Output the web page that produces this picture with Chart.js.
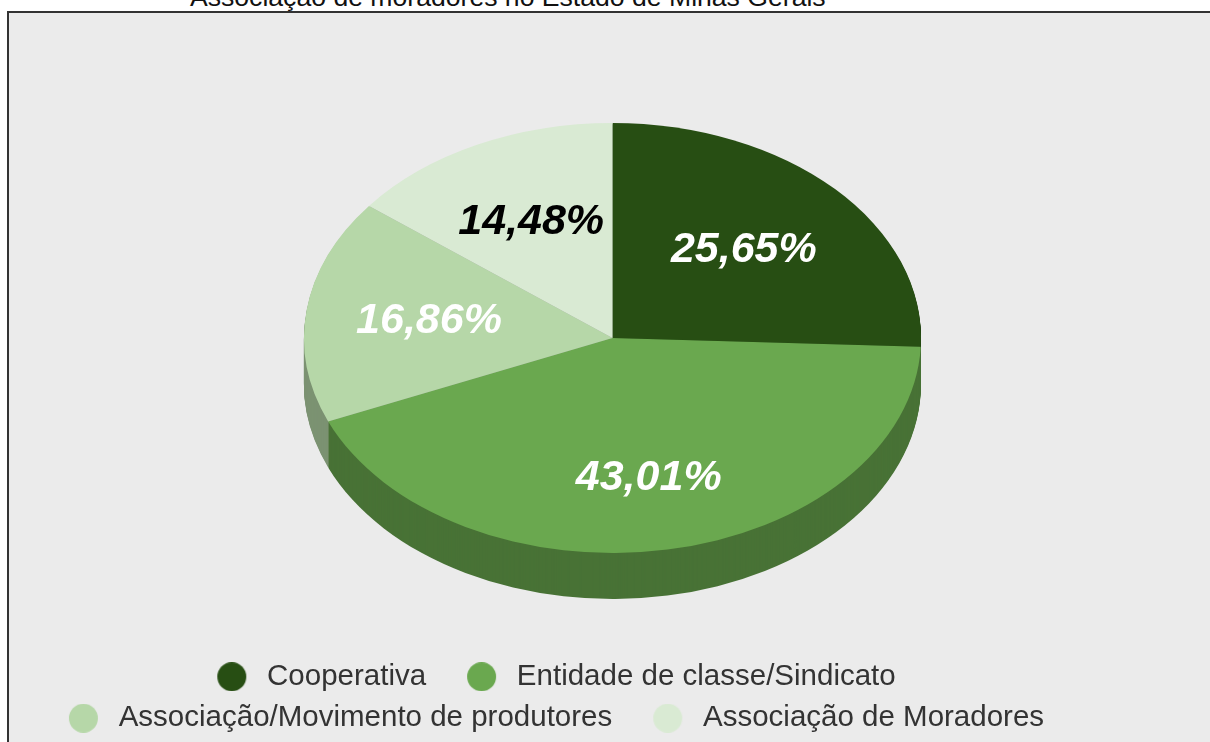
<!DOCTYPE html>
<html>
<head>
<meta charset="utf-8">
<script src="https://cdn.jsdelivr.net/npm/chart.js@4.4.1/dist/chart.umd.min.js"></script>
<style>
  html, body { margin: 0; padding: 0; background: #ffffff; overflow: hidden; width: 1210px; height: 742px; }
  #title { position: absolute; left: 190px; top: -16px; font: 26.6px "Liberation Sans", Arial, sans-serif; line-height: 26px; color: #111; white-space: nowrap; }
  #frame { position: absolute; left: 7px; top: 11px; width: 1220px; height: 760px; border: 2px solid #333; background: #ebebeb; }
  #chart { position: absolute; left: -8px; top: 13px; }
</style>
</head>
<body>
<div id="title">Associação de moradores no Estado de Minas Gerais</div>
<div id="frame"></div>
<canvas id="chart" width="1100" height="730"></canvas>
<script>
// ---- data ----
const categories = ['Cooperativa', 'Entidade de classe/Sindicato', 'Associação/Movimento de produtores', 'Associação de Moradores'];
const shares = [25.65, 43.01, 16.86, 14.48];
const sliceColors = ['#274e13', '#6aa84f', '#b6d7a8', '#d9ead3'];
const labelColors = ['#ffffff', '#ffffff', '#ffffff', '#000000'];
const labelRadiusFactors = [0.59, 0.66, 0.6, 0.6];

// ---- 3D look (canvas coordinates) ----
const CENTER_X = 620.5;
const CENTER_Y = 325;
const RADIUS = 308.5;
const TILT = 0.697;
const DEPTH = 46;

// legend marker: leading gap + circle + small trailing gap
const MARK_W = 64, MARK_H = 29, MARK_LEAD = 29;
function legendMarker(color) {
  const c = document.createElement('canvas');
  c.width = MARK_W; c.height = MARK_H;
  const g = c.getContext('2d');
  g.fillStyle = color;
  g.beginPath();
  g.arc(MARK_LEAD + MARK_H / 2, MARK_H / 2, MARK_H / 2, 0, Math.PI * 2);
  g.fill();
  return c;
}

function fmt(v) { return v.toFixed(2).replace('.', ',') + '%'; }

const pie3d = {
  id: 'pie3d',
  beforeDatasetsDraw(chart) {
    const ctx = chart.ctx;
    const arcs = chart.getDatasetMeta(0).data;
    if (!arcs.length) return;
    const a0 = arcs[0];
    const s = RADIUS / a0.outerRadius;
    const apply = (dy) => {
      ctx.translate(CENTER_X, CENTER_Y + dy);
      ctx.scale(s, s * TILT);
      ctx.translate(-a0.x, -a0.y);
    };
    for (let d = DEPTH; d >= 1; d--) {
      ctx.save();
      ctx.filter = 'brightness(0.68)';
      apply(d);
      arcs.forEach(arc => arc.draw(ctx));
      ctx.restore();
    }
    ctx.save();
    apply(0);
  },
  afterDatasetsDraw(chart) {
    const ctx = chart.ctx;
    ctx.restore();
    const arcs = chart.getDatasetMeta(0).data;
    ctx.save();
    ctx.font = 'italic bold 43px "Liberation Sans", Arial, sans-serif';
    ctx.textAlign = 'center';
    ctx.textBaseline = 'middle';
    arcs.forEach((arc, i) => {
      const mid = (arc.startAngle + arc.endAngle) / 2;
      const f = labelRadiusFactors[i];
      const x = CENTER_X + Math.cos(mid) * RADIUS * f;
      const y = CENTER_Y + Math.sin(mid) * RADIUS * f * TILT;
      ctx.fillStyle = labelColors[i];
      ctx.fillText(fmt(shares[i]), x, y);
    });
    ctx.restore();
  }
};

new Chart(document.getElementById('chart'), {
  type: 'pie',
  data: {
    labels: categories,
    datasets: [{
      data: shares,
      backgroundColor: sliceColors,
      borderWidth: 0,
      hoverOffset: 0,
      radius: RADIUS
    }]
  },
  options: {
    responsive: false,
    animation: false,
    events: [],
    layout: { padding: 0 },
    plugins: {
      tooltip: { enabled: false },
      legend: {
        position: 'bottom',
        align: 'center',
        labels: {
          font: { family: '"Liberation Sans", Arial, sans-serif', size: 29.5 },
          color: '#333333',
          usePointStyle: true,
          pointStyleWidth: MARK_W,
          boxHeight: 29,
          padding: 12,
          generateLabels: (chart) => chart.data.labels.map((label, i) => ({
            text: label,
            fillStyle: sliceColors[i],
            strokeStyle: sliceColors[i],
            lineWidth: 0,
            pointStyle: legendMarker(sliceColors[i]),
            fontColor: '#333333',
            hidden: false,
            index: i
          }))
        }
      }
    }
  },
  plugins: [pie3d]
});
</script>
</body>
</html>
